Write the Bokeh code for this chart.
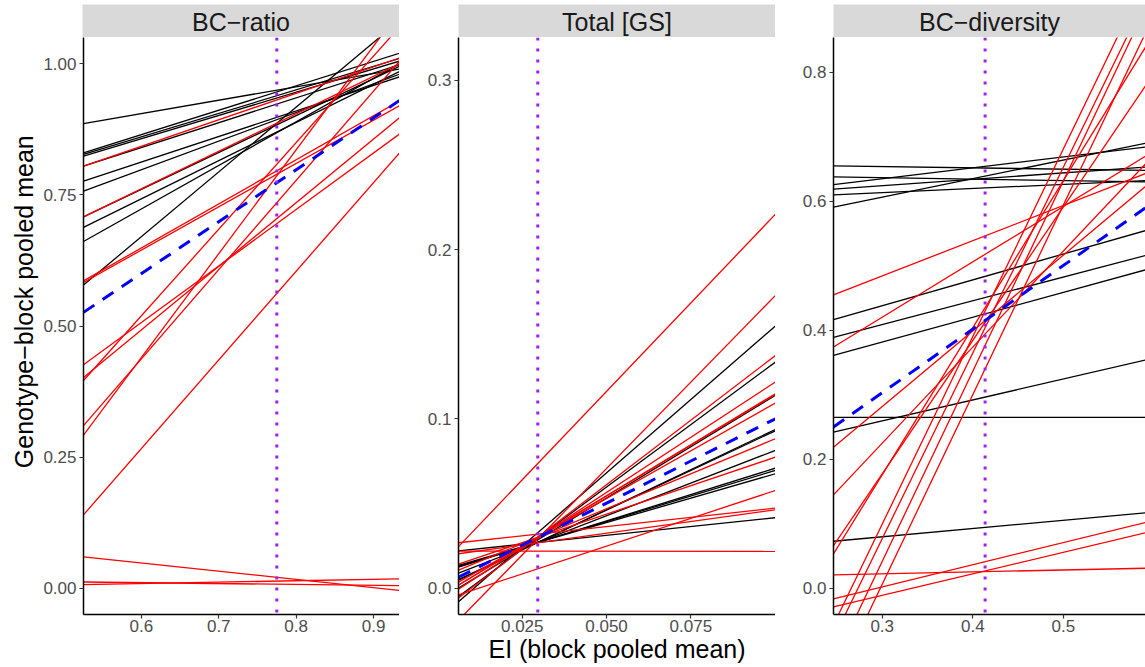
import math
from bokeh.plotting import figure
from bokeh.layouts import row, column
from bokeh.models import Range1d, FixedTicker, Span, Spacer, PrintfTickFormatter
from bokeh.core.properties import value
from bokeh.embed import file_html
from bokeh.resources import INLINE

FONT = "Liberation Sans"

# ---------------- data ----------------
# Panel titles
panel_titles = ["BC\u2212ratio", "Total [GS]", "BC\u2212diversity"]
x_title = "EI (block pooled mean)"
y_title = "Genotype\u2212block pooled mean"

# BC-ratio: fitted lines given by value at left / right end of EI domain
ratio_ei = [0.5253, 0.9335]
ratio_black_lo = [0.886, 0.830, 0.827, 0.824, 0.805, 0.776, 0.757, 0.708, 0.688, 0.661, 0.578]
ratio_black_hi = [0.990, 1.020, 1.010, 1.005, 0.998, 0.975, 0.980, 0.995, 0.985, 1.000, 1.082]
ratio_red_lo = [0.805, 0.708, 0.586, 0.583, 0.426, 0.402, 0.396, 0.310, 0.292, 0.140, 0.060, 0.012, 0.007]
ratio_red_hi = [1.011, 1.000, 0.929, 0.920, 0.866, 0.897, 1.070, 1.005, 1.100, 0.830, -0.004, 0.005, 0.018]
ratio_mean = [0.526, 0.930]
ratio_vline = 0.775

# Total [GS]
gs_ei = [0.00609, 0.1001]
gs_black_lo = [-0.008, -0.005, 0.000, 0.0047, 0.005, 0.0089, 0.0124, 0.0128, 0.0135, 0.022]
gs_black_hi = [0.155, 0.1336, 0.114, 0.0938, 0.093, 0.0814, 0.0709, 0.0696, 0.0676, 0.0416]
gs_red_lo = [0.0245, -0.019, -0.0058, -0.0006, 0.0017, 0.0018, 0.0035, 0.0106, 0.0142, -0.004, 0.0268, 0.0203, 0.0219]
gs_red_hi = [0.221, 0.173, 0.1375, 0.1218, 0.1149, 0.1145, 0.1094, 0.0883, 0.0774, 0.0577, 0.0473, 0.0463, 0.0217]
gs_mean = [0.0065, 0.1001]
gs_vline = 0.0296

# BC-diversity
div_ei = [0.2462, 0.5907]
div_black_lo = [0.655, 0.638, 0.626, 0.619, 0.610, 0.591, 0.4166, 0.389, 0.361, 0.265, 0.242, 0.0729]
div_black_hi = [0.648, 0.630, 0.684, 0.653, 0.632, 0.690, 0.5546, 0.516, 0.4937, 0.265, 0.354, 0.117]
div_red_lo = [0.455, 0.374, 0.2186, 0.1448, 0.066, 0.0533, -0.057, -0.078, -0.117, -0.152, 0.0207, -0.0165, -0.029]
div_red_hi = [0.643, 0.670, 0.623, 0.658, 0.779, 0.839, 0.945, 0.914, 0.899, 0.861, 0.031, 0.102, 0.086]
div_mean = [0.250, 0.590]
div_vline = 0.4136

# axes
ratio_xticks = [0.6, 0.7, 0.8, 0.9]
ratio_yticks = [0.0, 0.25, 0.5, 0.75, 1.0]
gs_xticks = [0.025, 0.05, 0.075]
gs_yticks = [0.0, 0.1, 0.2, 0.3]
div_xticks = [0.3, 0.4, 0.5]
div_yticks = [0.0, 0.2, 0.4, 0.6, 0.8]

PANEL_H = 630


def style_axes(p, xlabel):
    p.grid.visible = False
    p.outline_line_color = None
    for ax in [p.xaxis[0], p.yaxis[0]]:
        ax.axis_line_color = "black"
        ax.axis_line_width = 1.5
        ax.major_tick_line_color = "#333333"
        ax.major_tick_line_width = 1.2
        ax.major_tick_in = 0
        ax.major_tick_out = 4
        ax.minor_tick_line_color = None
        ax.major_label_text_font = FONT
        ax.major_label_text_font_size = "17px"
        ax.major_label_text_color = "#4D4D4D"
    p.xaxis.major_label_standoff = 1
    p.yaxis.major_label_standoff = 3
    p.xaxis.axis_label = xlabel
    p.xaxis.axis_label_standoff = 0
    p.xaxis.axis_label_text_font = FONT
    p.xaxis.axis_label_text_font_size = "25px"
    p.xaxis.axis_label_text_font_style = "normal"
    p.xaxis.axis_label_text_color = "black"


def make_panel(ei, blo, bhi, rlo, rhi, mean, vline, yr, xticks, yticks, xfmt, yfmt, width, bl, xlabel):
    p = figure(width=width, height=PANEL_H, x_range=Range1d(ei[0], ei[1]), y_range=Range1d(*yr),
               output_backend="svg", toolbar_location=None,
               min_border=0, min_border_left=bl, min_border_right=0,
               min_border_top=0, min_border_bottom=53)
    p.multi_line(xs=[ei] * len(blo), ys=[[a, b] for a, b in zip(blo, bhi)],
                 line_color="black", line_width=1.3)
    p.multi_line(xs=[ei] * len(rlo), ys=[[a, b] for a, b in zip(rlo, rhi)],
                 line_color="#FF0000", line_width=1.3)
    p.line(x=ei, y=mean, line_color="#0000FF", line_width=3, line_dash="13 10")
    p.add_layout(Span(location=vline, dimension="height", line_color="#A020F0",
                      line_width=3, line_dash="3 8"))
    p.xaxis.ticker = FixedTicker(ticks=xticks)
    p.yaxis.ticker = FixedTicker(ticks=yticks)
    p.xaxis.formatter = PrintfTickFormatter(format=xfmt)
    p.yaxis.formatter = PrintfTickFormatter(format=yfmt)
    style_axes(p, xlabel)
    return p


def make_strip(text, width, bl):
    s = figure(width=width, height=37, x_range=Range1d(0, 1), y_range=Range1d(0, 1),
               output_backend="svg", toolbar_location=None,
               x_axis_location=None, y_axis_location=None,
               min_border=0, min_border_left=bl, min_border_top=4,
               min_border_bottom=0, min_border_right=0)
    s.grid.visible = False
    s.outline_line_color = None
    s.background_fill_color = "#D9D9D9"
    s.text(x=[0.5], y=[0.47], text=[text], text_align="center", text_baseline="middle",
           text_font=value(FONT), text_font_size="25px", text_color="#1A1A1A")
    return s


p1 = make_panel(ratio_ei, ratio_black_lo, ratio_black_hi, ratio_red_lo, ratio_red_hi, ratio_mean,
                ratio_vline, (-0.05, 1.05), ratio_xticks, ratio_yticks, "%.1f", "%.2f", 359, 42, " ")
p2 = make_panel(gs_ei, gs_black_lo, gs_black_hi, gs_red_lo, gs_red_hi, gs_mean,
                gs_vline, (-0.0156, 0.3254), gs_xticks, gs_yticks, "%.3f", "%.1f", 376, 59, x_title)
p3 = make_panel(div_ei, div_black_lo, div_black_hi, div_red_lo, div_red_hi, div_mean,
                div_vline, (-0.0407, 0.854), div_xticks, div_yticks, "%.1f", "%.1f", 370, 58, " ")

s1 = make_strip(panel_titles[0], 359, 42)
s2 = make_strip(panel_titles[1], 376, 59)
s3 = make_strip(panel_titles[2], 370, 58)

# y title (rotated, centred on the panel area)
yt = figure(width=40, height=PANEL_H, x_range=Range1d(0, 40), y_range=Range1d(0, PANEL_H),
            output_backend="svg", toolbar_location=None, x_axis_location=None, y_axis_location=None,
            min_border=0)
yt.grid.visible = False
yt.outline_line_color = None
yt.text(x=[23], y=[PANEL_H - 288.5], text=[y_title], angle=math.pi / 2,
        text_align="center", text_baseline="middle", text_font=value(FONT),
        text_font_size="25px", text_color="black")

layout = column(
    row(Spacer(width=40, height=37), s1, s2, s3),
    row(yt, p1, p2, p3),
)

open("out.html", "w").write(file_html(layout, INLINE))
